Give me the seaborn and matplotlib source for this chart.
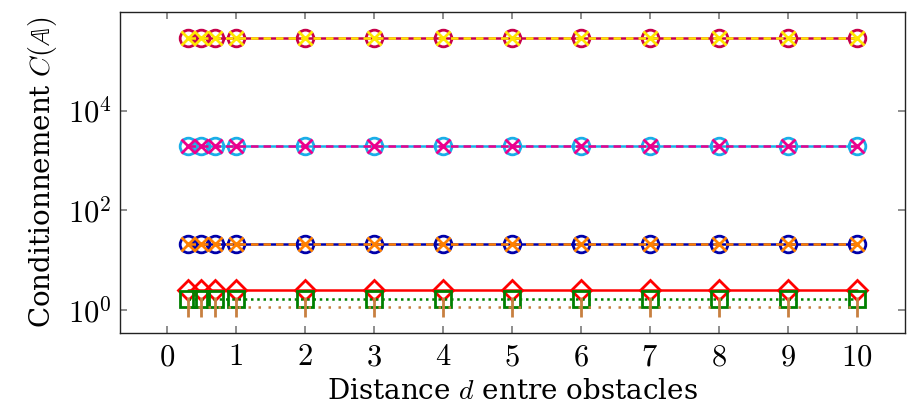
import matplotlib
matplotlib.use("Agg")
import matplotlib.pyplot as plt
import seaborn as sns
import numpy as np
import pandas as pd

# distances entre obstacles
distances = [0.3, 0.5, 0.7, 1, 2, 3, 4, 5, 6, 7, 8, 9, 10]
n = len(distances)

# conditionnement par methode (constant en d)
cond_a_circ = [2.9e5] * n
cond_a_x = [2.9e5] * n
cond_b_circ = [2000] * n
cond_b_x = [2000] * n
cond_c_circ = [21.5] * n
cond_c_x = [21.5] * n
cond_diamond = [2.5] * n
cond_square = [1.7] * n
cond_pin = [1.15] * n

x_ticks = [0, 1, 2, 3, 4, 5, 6, 7, 8, 9, 10]
y_ticks = [1, 1e2, 1e4]
y_tick_labels = ["$10^{0}$", "$10^{2}$", "$10^{4}$"]

sns.set_theme(style="white")
plt.rcParams["font.family"] = ["DejaVu Serif"]
plt.rcParams["mathtext.fontset"] = "cm"

fig = plt.figure(figsize=(9.1, 4.12), dpi=100)
ax = fig.add_axes([120 / 910, 1 - 333 / 412, 785 / 910, 321 / 412])

series = [
    # (valeurs, couleur, marqueur, style, taille)
    (cond_a_circ, "#c8004a", "o", "-", 12),
    (cond_a_x, "#ffe600", "x", (0, (3, 2)), 10),
    (cond_b_circ, "#1aaee8", "o", "-", 12),
    (cond_b_x, "#ec008c", "x", (0, (3, 2)), 10),
    (cond_c_circ, "#0000aa", "o", "-", 12),
    (cond_c_x, "#ff8000", "x", (0, (3, 2)), 10),
    (cond_diamond, "#ff0000", "D", "-", 10),
    (cond_square, "#008000", "s", (0, (1, 1.5)), 12),
    (cond_pin, "#c88040", "|", (0, (1, 3)), 15),
]

for vals, col, mk, ls, ms in series:
    df = pd.DataFrame({"d": distances, "C": vals})
    sns.lineplot(data=df, x="d", y="C", ax=ax, color=col, marker=mk,
                 linestyle=ls, linewidth=1.8, markersize=ms,
                 markerfacecolor="none" if mk not in ("x", "|") else col,
                 markeredgecolor=col, markeredgewidth=2.0)

ax.set_yscale("log")
ax.set_xlim(-0.68, 10.7)
ax.set_ylim(0.35, 9.5e5)
ax.set_xticks(x_ticks)
ax.set_xticklabels([f"${t}$" for t in x_ticks])
ax.set_yticks(y_ticks)
ax.set_yticklabels(y_tick_labels)
ax.yaxis.set_minor_locator(matplotlib.ticker.NullLocator())
ax.tick_params(axis="both", which="major", direction="in", length=5,
               color="#808080", labelsize=22, top=True, right=True,
               bottom=True, left=True, labelcolor="black", pad=6)
for sp in ax.spines.values():
    sp.set_color("#222222")
    sp.set_linewidth(1.0)

ax.set_xlabel("Distance $d$ entre obstacles", fontsize=20, color="black", labelpad=4)
ax.set_ylabel(r"Conditionnement $C(\mathbb{A})$", fontsize=20, color="black", labelpad=6)

fig.savefig("out.png", dpi=100, facecolor="white")
